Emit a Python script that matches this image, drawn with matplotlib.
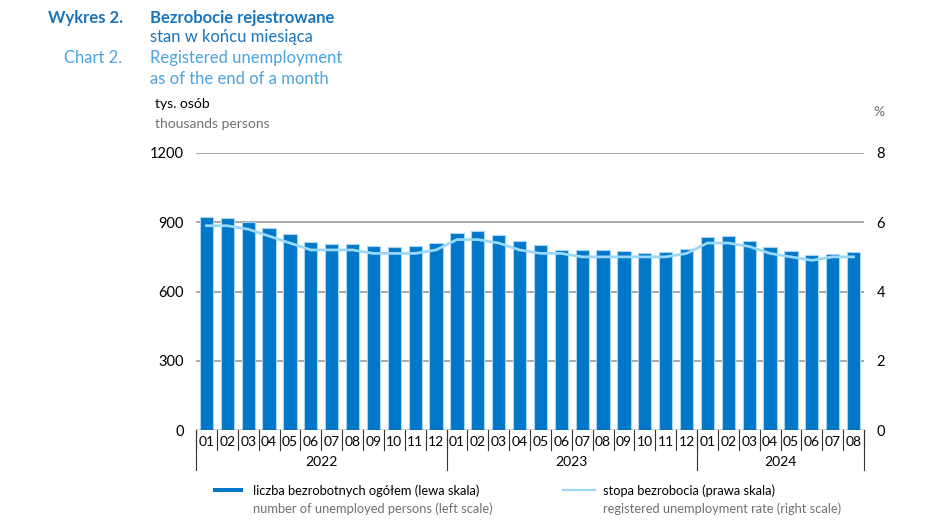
import matplotlib.pyplot as plt
import matplotlib.transforms as mtransforms
from matplotlib.patches import Rectangle
from matplotlib.lines import Line2D

plt.rcParams['font.family'] = ['Lato', 'DejaVu Sans']

# dane
miesiace = ["01", "02", "03", "04", "05", "06", "07", "08", "09", "10", "11", "12",
            "01", "02", "03", "04", "05", "06", "07", "08", "09", "10", "11", "12",
            "01", "02", "03", "04", "05", "06", "07", "08"]
lata = ["2022", "2023", "2024"]
bezrobotni = [924, 918, 900, 875, 848, 815, 807, 806, 799, 793, 797, 810,
              855, 862, 845, 820, 801, 781, 780, 780, 774, 768, 771, 785,
              835, 842, 820, 794, 774, 760, 764, 771]
stopa = [5.9, 5.9, 5.8, 5.6, 5.4, 5.2, 5.2, 5.2, 5.1, 5.1, 5.1, 5.2,
         5.5, 5.5, 5.4, 5.2, 5.1, 5.1, 5.0, 5.0, 5.0, 5.0, 5.0, 5.1,
         5.4, 5.4, 5.3, 5.1, 5.0, 4.9, 5.0, 5.0]

niebieski = "#0077c8"
jasny = "#9ad8f8"
granat = "#1a74bc"
blekit = "#4ba3dd"
szary = "#707070"

fig = plt.figure(figsize=(9.48, 5.29), dpi=100)
ax = fig.add_axes([196/948, 1-430/529, 668/948, 277/529])

x = list(range(len(bezrobotni)))
ax.bar(x, bezrobotni, width=0.64, color=niebieski, edgecolor="#a8d6f2", linewidth=0.8, zorder=2)
ax.set_xlim(-0.5, len(x)-0.5)
ax.set_ylim(0, 1200)
ax.set_yticks([0, 300, 600, 900, 1200])
for v in [300, 600, 900, 1200]:
    ax.axhline(v, color="#9a9a9a", lw=1.2, zorder=1)
ax.axhline(0, color="#333333", lw=1.0, zorder=3)

for s in ax.spines.values():
    s.set_visible(False)
ax.tick_params(axis="y", length=0, pad=9, labelsize=10.5)
ax.set_xticks(x)
ax.set_xticklabels(miesiace, fontsize=10)
ax.tick_params(axis="x", length=0, pad=4)

ax2 = ax.twinx()
ax2.plot(x, stopa, color=jasny, lw=2.0, zorder=4)
ax2.set_ylim(0, 8)
ax2.set_yticks([0, 2, 4, 6, 8])
for s in ax2.spines.values():
    s.set_visible(False)
ax2.tick_params(axis="y", length=0, pad=9, labelsize=10.5)

# separatory pod osią
tr = mtransforms.blended_transform_factory(ax.transData, ax.transAxes)
for i in range(len(x)+1):
    ax.plot([i-0.5, i-0.5], [0, -0.072], color="#333333", lw=0.8, transform=tr, clip_on=False)
granice = [-0.5, 11.5, 23.5, 31.5]
for g in granice:
    ax.plot([g, g], [0, -0.145], color="#333333", lw=0.8, transform=tr, clip_on=False)
for j, rok in enumerate(lata):
    srodek = (granice[j] + granice[j+1]) / 2
    ax.text(srodek, -0.115, rok, transform=tr, ha="center", va="center", fontsize=10)

# tytuły
fig.text(123/948, 1-18/529, "Wykres 2.", ha="right", va="center", fontsize=12, fontweight="bold", color=granat)
fig.text(150/948, 1-18/529, "Bezrobocie rejestrowane", ha="left", va="center", fontsize=12, fontweight="bold", color=granat)
fig.text(150/948, 1-37/529, "stan w końcu miesiąca", ha="left", va="center", fontsize=12, color=granat)
fig.text(122/948, 1-58/529, "Chart 2.", ha="right", va="center", fontsize=12, color=blekit)
fig.text(150/948, 1-58/529, "Registered unemployment", ha="left", va="center", fontsize=12, color=blekit)
fig.text(150/948, 1-79/529, "as of the end of a month", ha="left", va="center", fontsize=12, color=blekit)

fig.text(155/948, 1-104/529, "tys. osób", ha="left", va="center", fontsize=10, color="black")
fig.text(155/948, 1-124/529, "thousands persons", ha="left", va="center", fontsize=10, color=szary)
fig.text(873/948, 1-112/529, "%", ha="left", va="center", fontsize=10, color=szary)

# legenda
fig.patches.append(Rectangle((213/948, 1-492/529), 30/948, 4/529, transform=fig.transFigure,
                             facecolor=niebieski, edgecolor="none"))
fig.text(253/948, 1-491/529, "liczba bezrobotnych ogółem (lewa skala)", ha="left", va="center", fontsize=9.3, color="black")
fig.text(253/948, 1-509/529, "number of unemployed persons (left scale)", ha="left", va="center", fontsize=9.3, color=szary)
fig.lines.append(Line2D([563/948, 595/948], [1-490/529, 1-490/529], transform=fig.transFigure,
                        color=jasny, lw=1.6))
fig.text(603/948, 1-491/529, "stopa bezrobocia (prawa skala)", ha="left", va="center", fontsize=9.3, color="black")
fig.text(603/948, 1-509/529, "registered unemployment rate (right scale)", ha="left", va="center", fontsize=9.3, color=szary)

fig.savefig("out.png", dpi=100)
